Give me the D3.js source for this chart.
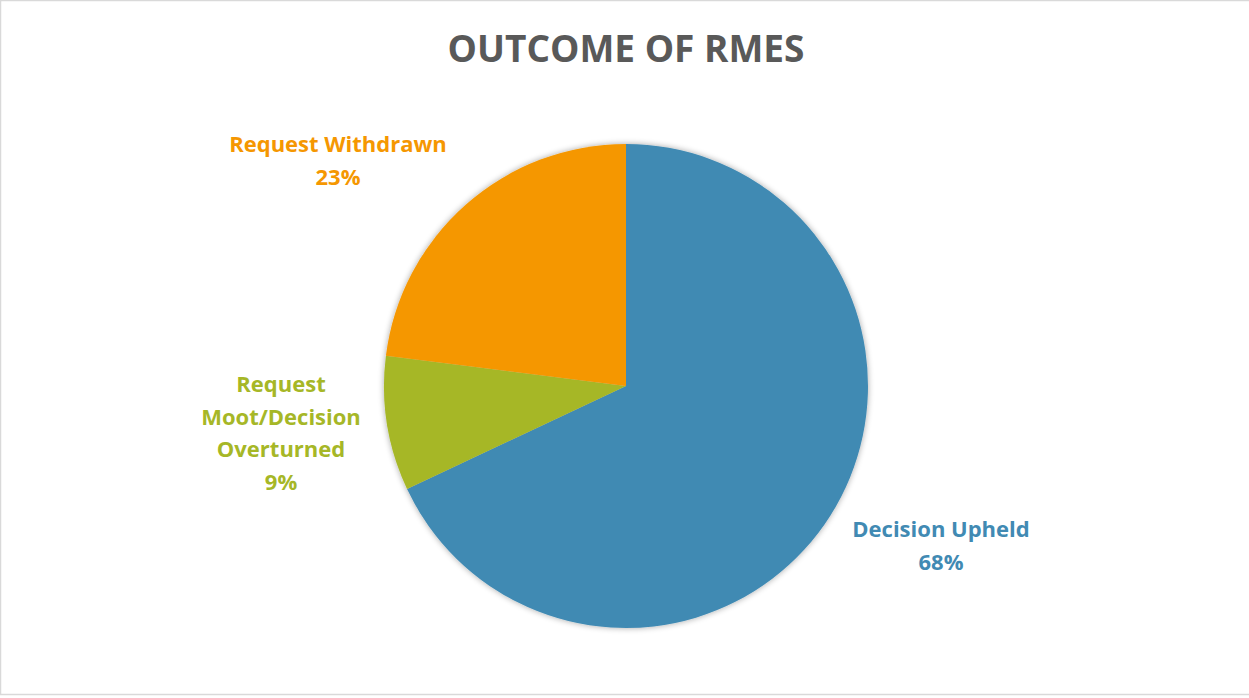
<!DOCTYPE html>
<html>
<head>
<meta charset="utf-8">
<script src="https://cdn.jsdelivr.net/npm/d3@7"></script>
<style>
  html, body { margin: 0; padding: 0; background: #fff; }
  text { font-family: "Open Sans", "Liberation Sans", sans-serif; font-weight: bold; }
</style>
</head>
<body>
<div id="chart"></div>
<script>
// data
const categories = ["Decision Upheld", "Request Moot/Decision Overturned", "Request Withdrawn"];
const values = [68, 9, 23];
const labelLines = [["Decision Upheld"], ["Request", "Moot/Decision", "Overturned"], ["Request Withdrawn"]];
const colors = ["#418ab3", "#a6b727", "#f59701"];

const width = 1249, height = 698;
const cx = 626, cy = 386, radius = 242;

const svg = d3.select("#chart")
  .append("svg")
  .attr("width", width)
  .attr("height", height);

// chart area border
svg.append("rect")
  .attr("x", 0.5).attr("y", 0.5)
  .attr("width", width + 10).attr("height", 694)
  .attr("fill", "#fff")
  .attr("stroke", "#d9d9d9")
  .attr("stroke-width", 1.5);

var defs = svg.append("defs");
var f = defs.append("filter").attr("id", "shadow")
  .attr("x", "-10%").attr("y", "-10%").attr("width", "120%").attr("height", "120%");
f.append("feGaussianBlur").attr("in", "SourceAlpha").attr("stdDeviation", 3);
f.append("feOffset").attr("dx", 0).attr("dy", 0).attr("result", "blur");
f.append("feComponentTransfer").append("feFuncA").attr("type", "linear").attr("slope", 0.35);
var m = f.append("feMerge");
m.append("feMergeNode");
m.append("feMergeNode").attr("in", "SourceGraphic");

svg.append("text")
  .attr("x", 626)
  .attr("y", 62)
  .attr("text-anchor", "middle")
  .attr("fill", "#595959")
  .style("font-size", "37px")
  .text("OUTCOME OF RMES");

const data = categories.map(function (c, i) {
  return { name: c, value: values[i], lines: labelLines[i], color: colors[i] };
});

const pie = d3.pie().sort(null).value(function (d) { return d.value; });
const arc = d3.arc().innerRadius(0).outerRadius(radius);

const g = svg.append("g")
  .attr("transform", "translate(" + cx + "," + cy + ")");

g.append("g").attr("filter", "url(#shadow)")
  .selectAll("path")
  .data(pie(data))
  .enter()
  .append("path")
  .attr("d", arc)
  .attr("fill", function (d) { return d.data.color; });

// label placement (best-fit style): centre x and first baseline, relative to pie centre
const labelOffsets = [[315, 151], [-345, 6], [-288, -234]];
const lineH = 32.7;

const labels = g.selectAll(".lbl")
  .data(pie(data))
  .enter()
  .append("text")
  .attr("class", "lbl")
  .attr("text-anchor", "middle")
  .attr("fill", function (d) { return d.data.color; })
  .style("font-size", "22px");

labels.each(function (d, i) {
  var lines = d.data.lines.concat([d.data.value + "%"]);
  var t = d3.select(this);
  lines.forEach(function (l, k) {
    t.append("tspan")
      .attr("x", labelOffsets[i][0])
      .attr("y", labelOffsets[i][1] + k * lineH)
      .text(l);
  });
});
</script>
</body>
</html>
